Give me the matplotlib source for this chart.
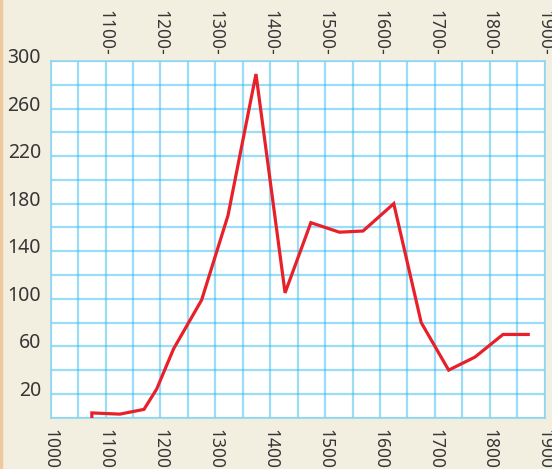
import matplotlib
matplotlib.use("Agg")
import matplotlib.pyplot as plt
import matplotlib.transforms as mtransforms
import numpy as np

plt.rcParams['font.family'] = ['Noto Sans', 'DejaVu Sans']

# values
years = [1075, 1075, 1126, 1170, 1193, 1224, 1275, 1323, 1374, 1427,
         1474, 1526, 1569, 1625, 1675, 1725, 1773, 1824, 1870]
values = [0, 4, 3, 7, 24, 58, 99, 170, 289, 105,
          164, 156, 157, 180, 80, 40, 51, 70, 70]

bottom_ticks = list(range(1000, 2000, 100))
top_ticks = list(range(1100, 2000, 100))
top_labels = [str(t) + "-" for t in top_ticks]
y_ticks = list(range(20, 301, 40))

bg = '#f2eee0'
grid_col = '#22b4ec'
text_col = '#363636'

fig = plt.figure(figsize=(5.52, 4.69), dpi=100, facecolor=bg)
ax = fig.add_axes([0.0918, 0.1094, 0.895, 0.7606])
ax.set_facecolor('white')

# orange stripe at the left edge
fig.patches.append(plt.Rectangle((0, 0), 0.003, 1, transform=fig.transFigure,
                                 color='#efc89c', zorder=0))

ax.set_xlim(1000, 1900)
ax.set_ylim(0, 300)

# labelled ticks plus unlabelled grid lines in between
ax.set_xticks(bottom_ticks)
ax.set_xticks(np.arange(1050, 1900, 100), minor=True)
ax.set_xticklabels([str(t) for t in bottom_ticks], rotation=270,
                   fontsize=12.5, color=text_col)
ax.set_yticks(y_ticks)
ax.set_yticks(np.arange(0, 301, 40), minor=True)
ax.set_yticklabels([str(t) for t in y_ticks], fontsize=14, color=text_col)
ax.grid(True, which='both', color=grid_col, alpha=0.45, linewidth=1.6)
ax.set_axisbelow(True)
ax.tick_params(axis='both', which='both', length=0)
ax.tick_params(axis='x', pad=8)
ax.tick_params(axis='y', pad=7)

# y labels sit a little above their lines
offset = mtransforms.ScaledTranslation(0, 5.5 / 100, fig.dpi_scale_trans)
for lab in ax.get_yticklabels():
    lab.set_transform(lab.get_transform() + offset)

sec = ax.secondary_xaxis('top')
sec.set_xticks(top_ticks)
sec.set_xticklabels(top_labels, rotation=270, fontsize=12.5, color=text_col)
sec.tick_params(length=0, pad=4)
sec.spines['top'].set_visible(False)

for s in ax.spines.values():
    s.set_color('#8fd6f2')
    s.set_linewidth(1.2)

ax.plot(years, values, color='#e8202a', linewidth=2.3, solid_joinstyle='miter',
        zorder=3)

fig.savefig('out.png', dpi=100, facecolor=bg)
